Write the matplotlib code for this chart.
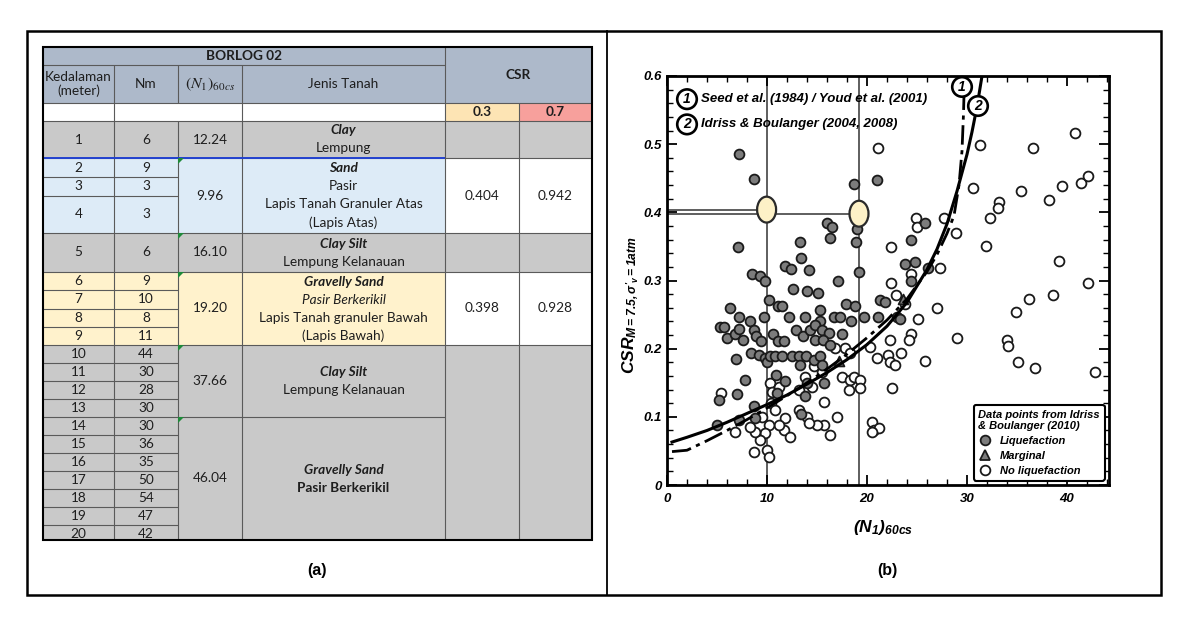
import matplotlib.pyplot as plt
import numpy as np
from matplotlib.patches import Rectangle, Ellipse, Polygon
from matplotlib.lines import Line2D
from matplotlib.font_manager import FontProperties

plt.rcParams['mathtext.fontset'] = 'custom'
plt.rcParams['mathtext.rm'] = 'Liberation Sans:bold:italic'
plt.rcParams['mathtext.it'] = 'Liberation Sans:bold:italic'
plt.rcParams['mathtext.bf'] = 'Liberation Sans:bold:italic'

# ---------------- (a) borlog table ----------------
depth = list(range(1, 21))
nm = [6, 9, 3, 3, 6, 9, 10, 8, 11, 44, 30, 28, 30, 30, 36, 35, 50, 54, 47, 42]
layer_rows = [1, 3, 1, 4, 4, 7]          # depth rows in each soil layer
n1_60cs = [12.24, 9.96, 16.10, 19.20, 37.66, 46.04]
layer_color = ['gray', 'blue', 'gray', 'yellow', 'gray', 'gray']
soil = [
    [("Clay", "bi"), ("Lempung", "n")],
    [("Sand", "bi"), ("Pasir", "n"), ("Lapis Tanah Granuler Atas", "n"), ("(Lapis Atas)", "n")],
    [("Clay Silt", "bi"), ("Lempung Kelanauan", "n")],
    [("Gravelly Sand", "bi"), ("Pasir Berkerikil", "i"), ("Lapis Tanah granuler Bawah", "n"), ("(Lapis Bawah)", "n")],
    [("Clay Silt", "bi"), ("Lempung Kelanauan", "n")],
    [("Gravelly Sand", "bi"), ("Pasir Berkerikil", "b")],
]
csr_levels = ["0.3", "0.7"]
csr_03 = [None, 0.404, None, 0.398, None, None]
csr_07 = [None, 0.942, None, 0.928, None, None]

# ---------------- (b) CSR vs (N1)60cs ----------------
liq_n = [7.2, 8.7, 18.7, 21.0, 16.0, 16.5, 16.3, 19.0, 18.9, 13.3, 7.1,
         13.4, 19.2, 8.5, 9.3, 9.8, 11.8, 12.4, 14.2, 12.6, 14.0, 15.1, 17.1,
         6.3, 7.2, 10.2, 11.1, 11.5, 9.7, 12.2, 13.8, 15.3, 15.3, 16.7, 17.3, 17.9, 18.8, 19.7, 18.4, 21.1, 21.3, 21.8, 23.0,
         5.3, 5.7, 6.0, 6.8, 7.2, 7.6, 8.3, 8.7, 8.9, 8.4, 9.2, 9.4, 9.8, 10.0, 10.3, 10.6, 11.1, 11.7, 10.8, 11.5, 12.5,
         13.2, 12.9, 13.6, 14.3, 14.8, 15.5, 16.2, 14.8, 15.6, 16.3, 13.9, 14.7, 15.3, 15.5, 13.3, 17.5,
         6.9, 7.8, 7.0, 5.2, 5.0, 7.2, 8.7, 8.8, 10.9, 11.8, 11.0, 13.8, 14.0, 15.7, 13.4,
         25.8, 24.4, 23.8, 24.8, 24.4, 26.1, 23.3]
liq_csr = [0.485, 0.449, 0.441, 0.447, 0.385, 0.378, 0.363, 0.375, 0.356, 0.356, 0.349,
           0.333, 0.313, 0.310, 0.306, 0.300, 0.321, 0.317, 0.316, 0.287, 0.284, 0.281, 0.300,
           0.260, 0.247, 0.272, 0.262, 0.262, 0.247, 0.247, 0.247, 0.257, 0.240, 0.247, 0.247, 0.266, 0.262, 0.247, 0.240, 0.247, 0.272, 0.269, 0.246,
           0.232, 0.232, 0.215, 0.221, 0.229, 0.213, 0.240, 0.228, 0.218, 0.194, 0.191, 0.211, 0.186, 0.180, 0.189, 0.221, 0.211, 0.211, 0.189, 0.189, 0.189,
           0.189, 0.228, 0.218, 0.228, 0.235, 0.228, 0.223, 0.213, 0.213, 0.206, 0.189, 0.184, 0.189, 0.176, 0.176, 0.221,
           0.185, 0.154, 0.134, 0.125, 0.088, 0.096, 0.116, 0.098, 0.162, 0.152, 0.135, 0.130, 0.150, 0.150, 0.104,
           0.385, 0.359, 0.324, 0.327, 0.299, 0.318, 0.244]
non_n = [21.1, 22.4, 22.4, 22.9, 22.3, 20.3, 21.0, 22.1, 22.3, 22.8, 22.5, 17.8, 18.3, 17.5, 18.3, 18.2, 18.7, 19.3, 19.3,
         20.5, 20.7, 21.2, 20.5, 17.0, 16.3, 15.7, 15.0, 15.7, 14.5, 13.8, 14.7, 15.5, 16.8, 13.2, 14.0, 14.2, 11.8, 11.7,
         12.3, 11.2, 10.2, 9.8, 9.3, 10.0, 10.2, 8.7, 8.8, 8.3, 6.8, 5.4, 10.3, 10.5, 11.2, 10.4, 10.8, 9.5, 13.2,
         31.3, 36.6, 40.8, 30.6, 35.4, 38.2, 39.5, 41.4, 42.1, 33.2, 33.1, 32.3, 28.9, 27.7, 24.9, 25.0, 31.9,
         39.2, 42.1, 27.3, 24.4, 38.6, 36.2, 34.9, 27.0, 25.1, 23.8, 29.0, 34.0, 34.1, 24.4, 24.2, 23.4, 25.8,
         35.1, 36.8, 42.8]
non_csr = [0.495, 0.349, 0.297, 0.279, 0.213, 0.203, 0.186, 0.191, 0.180, 0.176, 0.143, 0.201, 0.194, 0.159, 0.154, 0.140, 0.159, 0.154, 0.143,
           0.093, 0.081, 0.084, 0.078, 0.100, 0.074, 0.088, 0.088, 0.122, 0.144, 0.159, 0.174, 0.166, 0.201, 0.110, 0.100, 0.091, 0.099, 0.081,
           0.071, 0.088, 0.088, 0.076, 0.066, 0.051, 0.041, 0.049, 0.078, 0.085, 0.078, 0.135, 0.150, 0.137, 0.144, 0.121, 0.110, 0.100, 0.140,
           0.499, 0.494, 0.516, 0.435, 0.432, 0.418, 0.438, 0.443, 0.454, 0.415, 0.406, 0.391, 0.369, 0.391, 0.391, 0.379, 0.351,
           0.328, 0.297, 0.318, 0.309, 0.279, 0.273, 0.254, 0.260, 0.244, 0.265, 0.215, 0.213, 0.204, 0.221, 0.213, 0.194, 0.182,
           0.180, 0.172, 0.166]
mar_n = [17.2, 23.6]
mar_csr = [0.182, 0.273]

# curve 2: Idriss & Boulanger (solid)
ib_n = [0.5, 2, 4, 6, 8, 10, 12, 14, 16, 18, 20, 22, 24, 26, 27, 28, 29, 30, 30.5, 31, 31.5]
ib_csr = [0.063, 0.070, 0.080, 0.092, 0.105, 0.118, 0.132, 0.148, 0.165, 0.184, 0.206, 0.233, 0.268, 0.316, 0.346,
          0.383, 0.431, 0.485, 0.518, 0.555, 0.600]
# curve 1: Seed et al. / Youd et al. (dash-dot)
youd_n = [0.5, 2, 4, 6, 8, 10, 12, 14, 16, 18, 20, 22, 24, 26, 27, 28, 28.7, 29.2, 29.5, 29.65, 29.75]
youd_csr = [0.049, 0.051, 0.065, 0.080, 0.096, 0.113, 0.131, 0.150, 0.170, 0.192, 0.216, 0.242, 0.273, 0.313, 0.338,
            0.369, 0.395, 0.440, 0.490, 0.545, 0.600]

# borlog 02 results
borlog_n1 = [9.96, 19.20]
borlog_csr = [0.404, 0.398]

x_ticks = [0, 10, 20, 30, 40]
y_ticks = [0, 0.1, 0.2, 0.3, 0.4, 0.5, 0.6]
y_ticklabels = ['0', '0.1', '0.2', '0.3', '0.4', '0.5', '0.6']

fig = plt.figure(figsize=(11.78, 6.21), dpi=100)

# background axes in pixel units for frame + table
bg = fig.add_axes([0, 0, 1, 1])
bg.set_xlim(0, 1178)
bg.set_ylim(621, 0)
bg.axis('off')

bg.add_patch(Rectangle((27, 31), 1134, 564, fill=False, ec='black', lw=1.8, zorder=5))
bg.plot([607, 607], [31, 595], color='black', lw=1.3, zorder=5)

X = [43, 114, 178, 242, 445, 519, 592]
row_h = [37, 19, 19, 37, 39] + [18.25] * 4 + [18] * 11
Y = 121 + np.concatenate([[0], np.cumsum(row_h)])
T_TOP, T_BOT = 47, 540
first = np.concatenate([[0], np.cumsum(layer_rows)]).astype(int)

fills = {'gray': '#c9c9c9', 'blue': '#ddebf7', 'yellow': '#fff2cc', 'head': '#adb9ca'}
clip_rect = Rectangle((X[0], T_TOP), X[6] - X[0], T_BOT - T_TOP, transform=bg.transData)
FS = 9.8


def cell(x0, x1, y0, y1, fc):
    bg.add_patch(Rectangle((x0, y0), x1 - x0, min(y1, T_BOT) - y0, fc=fc, ec='none', zorder=1))


def hline(y, x0, x1, color='#5a5a5a', lw=0.8):
    if y < T_BOT:
        bg.plot([x0, x1], [y, y], color=color, lw=lw, zorder=2, solid_capstyle='butt')


def vline(x, y0, y1):
    bg.plot([x, x], [y0, y1], color='#5a5a5a', lw=0.8, zorder=2, solid_capstyle='butt')


def put(x, y, s, style='n', size=FS, **kw):
    weight = 'bold' if 'b' in style else 'normal'
    fstyle = 'italic' if 'i' in style else 'normal'
    t = bg.text(x, y, s, ha='center', va='center', family='Lato', size=size,
                weight=weight, style=fstyle, color='#1e1e1e', zorder=4, **kw)
    t.set_clip_path(clip_rect)
    return t


# header
cell(X[0], X[6], T_TOP, 103, fills['head'])
cell(X[0], X[4], 103, 121, 'white')
cell(X[4], X[5], 103, 121, '#fde4b4')
cell(X[5], X[6], 103, 121, '#f7a09c')
put((X[0] + X[4]) / 2, 56, "BORLOG 02", 'b')
put((X[0] + X[1]) / 2, 84, "Kedalaman\n(meter)", linespacing=1.1)
put((X[1] + X[2]) / 2, 84, "Nm")
bg.text((X[2] + X[3]) / 2, 84, r"$(N_1)_{60cs}$", ha='center', va='center', size=11.5,
        math_fontfamily='stix', color='#1e1e1e', zorder=4)
put((X[3] + X[4]) / 2, 84, "Jenis Tanah")
put((X[4] + X[6]) / 2, 75, "CSR", 'b')
put((X[4] + X[5]) / 2, 112, csr_levels[0], 'b')
put((X[5] + X[6]) / 2, 112, csr_levels[1], 'b')

# layers
for k in range(len(layer_rows)):
    y0, y1 = Y[first[k]], Y[first[k + 1]]
    cell(X[0], X[4], y0, y1, fills[layer_color[k]])
    yc = (y0 + min(y1, T_BOT)) / 2
    put((X[2] + X[3]) / 2, yc, f"{n1_60cs[k]:.2f}")
    lines = soil[k]
    for j, (s, st) in enumerate(lines):
        put((X[3] + X[4]) / 2, yc + (j - (len(lines) - 1) / 2) * 18, s, st)
    if k > 0:
        bg.add_patch(Polygon([(X[2], y0), (X[2] + 6, y0), (X[2], y0 + 6)], closed=True,
                             fc='#1f8a3a', ec='none', zorder=3))

# csr blocks: adjacent layers without a CSR value share one cell
blocks = []
for k in range(len(layer_rows)):
    if blocks and csr_03[k] is None and csr_03[blocks[-1][-1]] is None and blocks[-1][-1] == k - 1 and k > 1:
        blocks[-1].append(k)
    else:
        blocks.append([k])
csr_bounds = set()
for b in blocks:
    y0, y1 = Y[first[b[0]]], Y[first[b[-1] + 1]]
    csr_bounds.add(first[b[0]])
    k = b[0]
    if csr_03[k] is None:
        cell(X[4], X[6], y0, y1, fills['gray'])
    else:
        cell(X[4], X[6], y0, y1, 'white')
        yc = (y0 + y1) / 2
        put((X[4] + X[5]) / 2, yc, f"{csr_03[k]:.3f}")
        put((X[5] + X[6]) / 2, yc, f"{csr_07[k]:.3f}")

# depth rows
for i in range(len(depth)):
    yc = (Y[i] + Y[i + 1]) / 2
    put((X[0] + X[1]) / 2, yc, str(depth[i]))
    put((X[1] + X[2]) / 2, yc, str(nm[i]))

# grid lines
hline(65, X[0], X[4])
hline(103, X[0], X[6])
hline(121, X[0], X[6])
vline(X[1], 65, T_BOT)
vline(X[2], 65, 103)
vline(X[2], 121, T_BOT)
vline(X[3], 65, T_BOT)
vline(X[4], T_TOP, T_BOT)
vline(X[5], 103, T_BOT)
for i in range(1, len(depth)):
    hline(Y[i], X[0], X[2])
    if i in first:
        hline(Y[i], X[2], X[4])
    if i in csr_bounds:
        hline(Y[i], X[4], X[6])
hline(Y[1], X[0], X[4], color='#2342d0', lw=1.4)
bg.add_patch(Rectangle((X[0], T_TOP), X[6] - X[0], T_BOT - T_TOP, fill=False, ec='black', lw=1.5, zorder=5))

bg.text(317, 571, "(a)", ha='center', va='center', family='Liberation Sans', weight='bold', size=11.5)
bg.text(887, 571, "(b)", ha='center', va='center', family='Liberation Sans', weight='bold', size=11.5)

# ---------------- chart (b) ----------------
ax = fig.add_axes([667 / 1178, 1 - 485 / 621, 442 / 1178, 409 / 621])
ax.set_xlim(0, 44.2)
ax.set_ylim(0, 0.6)

for xv in borlog_n1:
    ax.plot([xv, xv], [0, 0.6], color='#333333', lw=1.1, zorder=1)
for xv, yv in zip(borlog_n1, borlog_csr):
    ax.plot([0, xv], [yv, yv], color='#333333', lw=1.1, zorder=1)

ax.scatter(non_n, non_csr, s=50, facecolor='white', edgecolor='#1a1a1a', lw=1.3, zorder=3)
ax.scatter(liq_n, liq_csr, s=50, facecolor='#7c7c7c', edgecolor='#1a1a1a', lw=1.3, zorder=3)
ax.scatter(mar_n, mar_csr, s=50, marker='^', facecolor='#7c7c7c', edgecolor='#1a1a1a', lw=1.3, zorder=3)

ax.plot(youd_n, youd_csr, color='black', lw=2.0, ls=(0, (7, 2, 1.5, 2)), zorder=4)
ax.plot(ib_n, ib_csr, color='black', lw=2.2, zorder=4)

for xv, yv in zip(borlog_n1, borlog_csr):
    ax.add_patch(Ellipse((xv, yv), 1.9, 0.038, fc='#fdf1c7', ec='#2a2a2a', lw=1.6, zorder=5))

bi = dict(family='Liberation Sans', weight='bold', style='italic')
circ = dict(boxstyle='circle,pad=0.2', fc='white', ec='black', lw=1.9)
ax.text(2.0, 0.566, "1", ha='center', va='center', size=10, bbox=circ, zorder=6, **bi)
ax.text(2.0, 0.529, "2", ha='center', va='center', size=10, bbox=circ, zorder=6, **bi)
ax.text(3.4, 0.566, "Seed et al. (1984) / Youd et al. (2001)", ha='left', va='center', size=9.5, zorder=6, **bi)
ax.text(3.4, 0.529, "Idriss & Boulanger (2004, 2008)", ha='left', va='center', size=9.5, zorder=6, **bi)
ax.text(29.5, 0.584, "1", ha='center', va='center', size=10, bbox=circ, zorder=6, **bi)
ax.text(31.1, 0.556, "2", ha='center', va='center', size=10, bbox=circ, zorder=6, **bi)

ax.set_xticks(x_ticks)
ax.set_xticks(np.arange(0, 44.2, 2), minor=True)
ax.set_yticks(y_ticks)
ax.set_yticks(np.arange(0, 0.601, 0.02), minor=True)
ax.set_yticklabels(y_ticklabels)
ax.tick_params(which='both', direction='in', top=True, right=True, colors='black')
ax.tick_params(which='major', length=7, width=1.3)
ax.tick_params(which='minor', length=4, width=1.0)
ax.tick_params(axis='x', pad=6)
ax.tick_params(axis='y', pad=4)
tick_fp = FontProperties(family='Liberation Sans', weight='bold', style='italic', size=9.5)
for lab in ax.get_xticklabels() + ax.get_yticklabels():
    lab.set_fontproperties(tick_fp)
for sp in ax.spines.values():
    sp.set_linewidth(2.0)

ax.text(-0.083, 0.44, r"$CSR_{M=7.5,\sigma'_v=1atm}$", transform=ax.transAxes, rotation=90,
        ha='center', va='center', size=12.5)
ax.text(0.489, -0.105, r"$(N_1)_{60cs}$", transform=ax.transAxes, ha='center', va='center', size=12.5)

mk = dict(ls='none', ms=7, mew=1.3, mec='#1a1a1a')
handles = [Line2D([], [], marker='o', mfc='#7c7c7c', **mk),
           Line2D([], [], marker='^', mfc='#7c7c7c', **mk),
           Line2D([], [], marker='o', mfc='white', **mk)]
leg_fp = FontProperties(family=['Liberation Sans Narrow', 'Liberation Sans'], weight='bold', style='italic', size=8)
leg = ax.legend(handles, ["Liquefaction", "Marginal", "No liquefaction"],
                title="Data points from Idriss\n& Boulanger (2010)", loc='lower right',
                prop=leg_fp, title_fontproperties=leg_fp, alignment='left', fancybox=True,
                framealpha=1, edgecolor='black', borderaxespad=0.4, handletextpad=0.7,
                labelspacing=0.45, handlelength=1.2)
leg.get_frame().set_linewidth(1.5)
leg.set_zorder(7)

fig.savefig("out.png", dpi=100)
